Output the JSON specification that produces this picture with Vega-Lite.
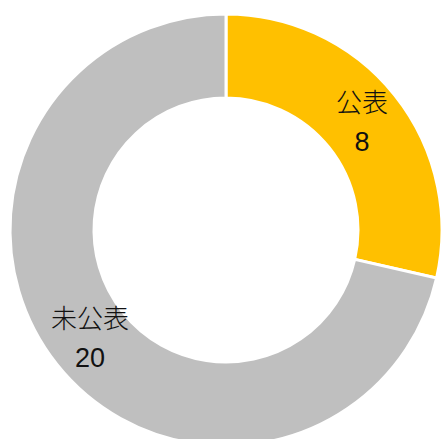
{
  "$schema": "https://vega.github.io/schema/vega-lite/v6.json",
  "width": 452,
  "height": 460,
  "autosize": "none",
  "padding": 0,
  "background": "white",
  "view": {"stroke": null},
  "data": {"values": [
    {"category": "公表", "count": 8},
    {"category": "未公表", "count": 20}
  ]},
  "encoding": {
    "theta": {"field": "count", "type": "quantitative", "stack": true}
  },
  "layer": [
    {
      "mark": {"type": "arc", "outerRadius": 216, "innerRadius": 132, "stroke": "white", "strokeWidth": 3},
      "encoding": {
        "color": {"field": "category", "type": "nominal", "scale": {"domain": ["公表", "未公表"], "range": ["#FFC000", "#BFBFBF"]}, "legend": null}
      }
    },
    {
      "mark": {"type": "text", "radius": 174, "dy": -18, "fontSize": 26, "fontWeight": 300, "font": "Noto Sans CJK JP", "color": "#111111"},
      "encoding": {"text": {"field": "category", "type": "nominal"}}
    },
    {
      "mark": {"type": "text", "radius": 174, "dy": 21, "fontSize": 27, "font": "Liberation Sans", "color": "#111111"},
      "encoding": {"text": {"field": "count", "type": "quantitative"}}
    }
  ]
}
